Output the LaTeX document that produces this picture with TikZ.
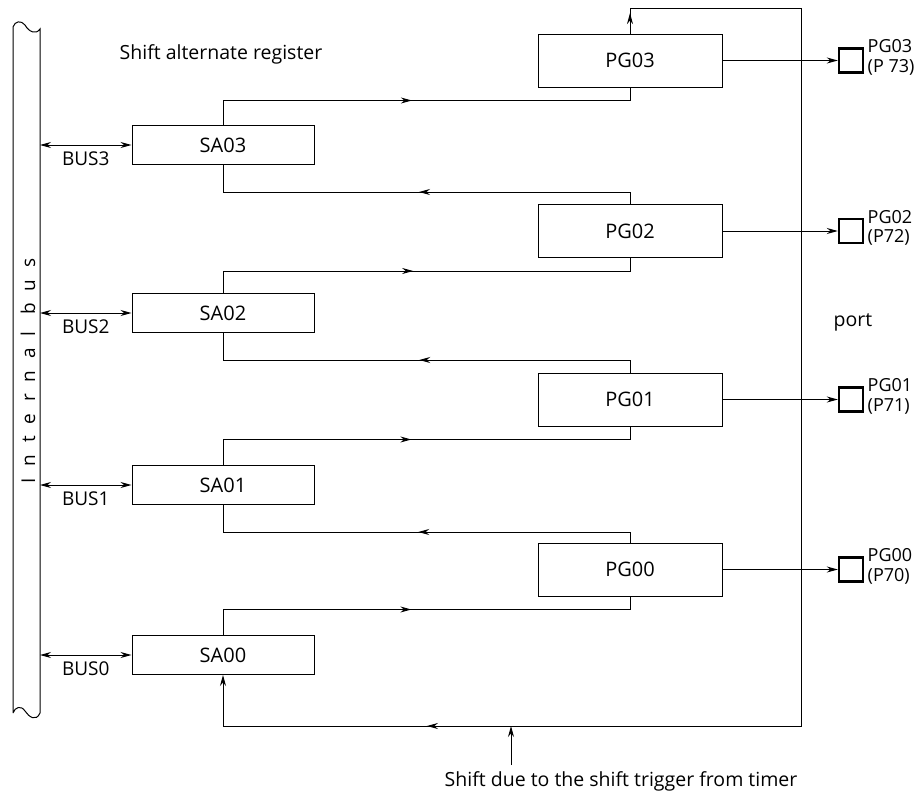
\documentclass[tikz,border=0pt]{standalone}
\usepackage{fontspec}
\setmainfont{Open Sans}
\newfontfamily\spacedfont[LetterSpace=62]{Open Sans}
\usetikzlibrary{arrows.meta,decorations.markings,calc}

\begin{document}
\begin{tikzpicture}[x=1pt,y=-1pt, line width=1pt, >={Stealth[length=11pt,width=6pt]},
 sabox/.style={draw, minimum width=182pt, minimum height=39pt, inner sep=0pt, font=\fontsize{20}{22}\selectfont},
 pgbox/.style={draw, minimum width=184pt, minimum height=53pt, inner sep=0pt, font=\fontsize{20}{22}\selectfont},
 portsq/.style={draw, line width=2.4pt, minimum size=24pt, inner sep=0pt},
 lbl/.style={font=\fontsize{19}{17}\selectfont, inner sep=0pt},
 plbl/.style={font=\fontsize{18}{19.5}\selectfont, inner sep=0pt},
 txt/.style={font=\fontsize{19.5}{21}\selectfont, inner sep=0pt},
 midarrow/.style={postaction={decorate}, decoration={markings, mark=at position #1 with {\arrow{Stealth[length=11pt,width=6pt]}}}}
]
\useasboundingbox (0,0) rectangle (924,795);

% internal bus
\draw (13,713) -- (13,27) .. controls (15,21) and (21,20) .. (25,25) .. controls (29,32) and (36,35) .. (40,29) -- (40,713) .. controls (36,722) and (29,717) .. (25,711) .. controls (21,705) and (15,707) .. (13,713);
\node[rotate=90, font=\spacedfont\fontsize{19}{20}\selectfont, inner sep=0pt] (bustext) at (28,371) {Internal bus};

% registers
\node[sabox] (SA03) at (223,145) {SA03};
\node[sabox] (SA02) at (223,313) {SA02};
\node[sabox] (SA01) at (223,485) {SA01};
\node[sabox] (SA00) at (223,655) {SA00};
\node[pgbox] (PG03) at (630,60.5) {PG03};
\node[pgbox] (PG02) at (630,231) {PG02};
\node[pgbox] (PG01) at (630,399.5) {PG01};
\node[pgbox] (PG00) at (630,569.5) {PG00};

% bus connections
\foreach \k/\y in {3/145,2/313,1/485,0/655}{
  \coordinate (bus\k) at (40,\y);
  \draw[<->] (bus\k) -- (SA0\k.west);
  \node[lbl] (buslbl\k) at ($(bus\k)!0.5!(SA0\k.west)+(0,14)$) {BUS\k};
}

% shift chain
\foreach \k in {3,2,1,0}{
  \draw[midarrow=0.48] (SA0\k.north) |- ($(PG0\k.south)+(0,13)$) -- (PG0\k.south);
}
\foreach \k/\j in {2/3,1/2,0/1}{
  \draw[midarrow=0.5] (PG0\k.north) |- ($(SA0\j.south)+(0,27)$) -- (SA0\j.south);
}

% loop back
\coordinate (tl) at (630,8);
\coordinate (tr) at (801,8);
\coordinate (br) at (801,726);
\coordinate (bl) at (223,726);
\draw[midarrow=0.8] (PG03.north) -- (tl);
\draw[midarrow=0.861] (tl) -- (tr) -- (br) -- (bl);
\draw[->] (bl) -- (SA00.south);

% timer
\coordinate (tim) at (511,765);
\draw[->] (tim) -- (tim |- bl);
\node[txt] (timtxt) at (621,781) {Shift due to the shift trigger from timer};

% ports
\foreach \k/\a/\b in {3/PG03/(P 73),2/PG02/(P72),1/PG01/(P71),0/PG00/(P70)}{
  \node[portsq] (sq\k) at (PG0\k.east -| 851,0) {};
  \draw[->] (PG0\k.east) -- (sq\k.west);
  \node[plbl, align=left, anchor=west] (plbl\k) at ($(sq\k.east)+(3,-3)$) {\a\\\b};
}

\node[txt] (title) at (221,54) {Shift alternate register};
\node[txt] (port) at (853,322) {port};
\end{tikzpicture}
\end{document}
